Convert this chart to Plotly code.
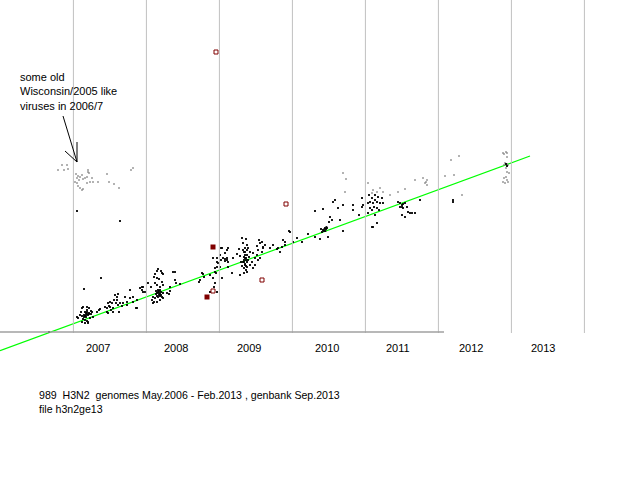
import plotly.graph_objects as go

# time axis: days since 1 Jan 2006 ; value: distance from the May.2006 root
year_labels = ["2007", "2008", "2009", "2010", "2011", "2012", "2013"]
year_label_days = [532, 921, 1286, 1674, 2031, 2394, 2754]
grid_days = [408, 773, 1138, 1503, 1868, 2233, 2598, 2963]

# fitted molecular clock line
fit_days = [41, 2691]
fit_vals = [-18.7, 176]

# black dots = sequenced viruses, per season (day, value)
black_0607 = [(286, 0), (426, 121), (641, 111), (546, 54), (461, 43), (456, 25), (446, 20), (466, 20),
              (476, 20), (486, 19), (496, 21), (501, 20), (526, 20), (536, 22), (541, 23), (426, 15),
              (431, 14), (451, 16), (461, 15), (471, 17), (476, 18), (486, 18), (496, 18), (456, 13),
              (466, 12), (476, 11), (481, 10), (491, 14), (506, 15), (451, 10), (466, 9), (451, 24),
              (471, 19), (476, 22), (481, 17), (441, 17), (476, 25), (486, 24), (481, 9), (461, 17),
              (471, 15), (466, 16)]
black_0708 = [(566, 25), (576, 24), (581, 29), (591, 30), (601, 29), (586, 26), (596, 22), (606, 24),
              (616, 37), (626, 35), (631, 38), (611, 32), (621, 29), (631, 27), (651, 26), (656, 29),
              (676, 30), (691, 34), (706, 35), (726, 24), (576, 20), (581, 19), (606, 20), (636, 20),
              (691, 42), (676, 27), (751, 45), (756, 40), (666, 35), (641, 29), (591, 25), (626, 32),
              (756, 45), (751, 42), (766, 40), (741, 44), (726, 32), (706, 30), (721, 24)]
black_0809 = [(831, 63), (826, 61), (846, 61), (851, 59), (856, 58), (816, 58), (811, 55), (826, 54),
              (836, 53), (851, 50), (856, 47), (816, 49), (826, 47), (841, 45), (831, 42), (846, 40),
              (826, 39), (836, 37), (851, 35), (806, 35), (816, 34), (801, 32), (811, 30), (826, 30),
              (841, 32), (856, 39), (856, 34), (806, 29), (796, 45), (781, 49), (916, 60), (921, 49),
              (941, 48), (886, 38), (891, 41), (1041, 52), (821, 41), (831, 40), (836, 39), (841, 38),
              (846, 37), (826, 36), (831, 35), (841, 36), (821, 38), (836, 41), (841, 42), (891, 45),
              (876, 39), (916, 52), (906, 60)]
black_0910 = [(1106, 74), (1126, 74), (1131, 69), (1116, 64), (1141, 65), (1166, 79), (1176, 72),
              (1181, 65), (1121, 59), (1106, 54), (1116, 49), (1111, 45), (1091, 40), (1036, 50),
              (1051, 59), (1146, 72), (1166, 71), (1151, 54), (1201, 59), (1151, 84), (1141, 77),
              (1156, 74), (1176, 82), (1056, 58), (1091, 57), (1116, 60), (1126, 70), (1126, 65),
              (1061, 55), (1126, 40), (1146, 84), (1181, 84), (1166, 73), (1176, 74), (1181, 70),
              (1206, 74), (1226, 78), (1236, 83), (1251, 94), (1271, 93), (1256, 89), (1276, 87),
              (1256, 82), (1266, 80), (1276, 77), (1261, 75), (1271, 74), (1256, 70), (1266, 67),
              (1261, 64), (1276, 60), (1261, 59), (1281, 84), (1291, 80), (1286, 75), (1281, 72),
              (1291, 67), (1301, 70), (1306, 79), (1316, 74), (1326, 86), (1336, 92), (1351, 90),
              (1341, 89), (1356, 85), (1331, 82), (1351, 80), (1356, 84), (1366, 87), (1326, 77),
              (1331, 72), (1341, 74), (1316, 67), (1306, 64), (1251, 66), (1246, 70), (1241, 76),
              (1276, 65), (1241, 57), (1266, 77), (1271, 72), (1261, 70), (1266, 68), (1271, 66),
              (1276, 82), (1261, 80), (1271, 62), (1266, 84), (1276, 70), (1266, 74), (1261, 72)]
black_1011 = [(1391, 84), (1426, 83), (1441, 80), (1451, 85), (1466, 87), (1456, 92), (1486, 101),
              (1506, 90), (1406, 87), (1466, 90), (1431, 84), (1491, 100), (1526, 94), (1551, 90),
              (1581, 98), (1616, 95), (1641, 93), (1651, 100), (1656, 102), (1666, 104), (1671, 103),
              (1661, 101), (1676, 104), (1646, 103), (1681, 95), (1691, 115), (1701, 112), (1686, 110),
              (1706, 130), (1716, 132), (1741, 112), (1756, 127), (1756, 101), (1731, 124), (1616, 121),
              (1656, 123), (1806, 127), (1806, 122), (1836, 117), (1851, 134), (1851, 125), (1856, 127),
              (1663, 103), (1668, 101), (1673, 105)]
black_1112 = [(1931, 135), (1916, 137), (1886, 137), (1901, 134), (1881, 129), (1891, 130), (1906, 129),
              (1916, 132), (1926, 130), (1941, 129), (1956, 129), (1911, 125), (1901, 122), (1926, 124),
              (1936, 122), (1891, 124), (1951, 134), (1901, 105), (1906, 105), (1926, 109), (1881, 119),
              (1916, 117), (2031, 130), (2041, 129), (2051, 127), (2056, 128), (2066, 129), (2041, 125),
              (2051, 125), (2056, 124), (2076, 125), (2091, 119), (2101, 119), (2081, 120), (2066, 115),
              (2051, 117), (2116, 119), (2141, 132)]
black_1213 = [(2306, 132), (2306, 130), (2571, 168), (2576, 166)]

# grey dots = older Wisconsin/2005-like lineage and outliers
grey_old = [(351, 167), (376, 167), (331, 162), (361, 162), (381, 163), (421, 158), (431, 156),
            (426, 154), (441, 155), (451, 157), (436, 152), (456, 153), (466, 154), (481, 162),
            (486, 159), (476, 155), (491, 150), (476, 149), (426, 149), (431, 146), (441, 144),
            (451, 142), (416, 150), (501, 154), (531, 150), (576, 158), (586, 150), (611, 148),
            (636, 144), (696, 162), (706, 164), (456, 143), (481, 160), (506, 150)]
grey_late = [(1756, 159), (1771, 153), (1766, 140), (1881, 149), (1901, 139), (1906, 142), (1926, 140),
             (1941, 144), (1956, 140), (1991, 137), (2031, 140), (2116, 152), (2156, 154), (2171, 150),
             (2176, 152), (2166, 149), (2176, 147), (2066, 143), (2266, 156), (2296, 172), (2311, 157),
             (2336, 176), (2351, 137), (2556, 179), (2561, 178), (2571, 180), (2576, 179), (2576, 175),
             (2566, 169), (2576, 168), (2581, 167), (2561, 167), (2571, 164), (2576, 160), (2586, 159),
             (2561, 154), (2576, 152), (2581, 150), (2566, 149), (2556, 150), (2571, 155)]

# red boxes = special cases
red_fill_days = [1106, 1076]
red_fill_vals = [85, 35]
red_open_days = [1121, 1471, 1351, 1106]
red_open_vals = [280, 128, 52, 41]

black = black_0607 + black_0708 + black_0809 + black_0910 + black_1011 + black_1112 + black_1213
grey = grey_old + grey_late

fig = go.Figure()

# year boundaries
for d in grid_days:
    fig.add_shape(type="line", x0=d, x1=d, y0=-1, y1=332, line=dict(color="#c0c0c0", width=1))
fig.add_shape(type="line", x0=41, x1=2261, y0=0, y1=0, line=dict(color="#a0a0a0", width=1.5))

fig.add_trace(go.Scatter(x=fit_days, y=fit_vals, mode="lines", line=dict(color="#00ff00", width=1.2)))
fig.add_trace(go.Scatter(x=[p[0] for p in grey], y=[p[1] for p in grey], mode="markers",
                         marker=dict(symbol="square", size=1.6, color="#808080", line=dict(width=0))))
fig.add_trace(go.Scatter(x=[p[0] for p in black], y=[p[1] for p in black], mode="markers",
                         marker=dict(symbol="square", size=1.8, color="black", line=dict(width=0))))
fig.add_trace(go.Scatter(x=red_fill_days, y=red_fill_vals, mode="markers",
                         marker=dict(symbol="square", size=5, color="#800000", line=dict(width=0))))
fig.add_trace(go.Scatter(x=red_open_days, y=red_open_vals, mode="markers",
                         marker=dict(symbol="square-open", size=4, color="#800000", line=dict(width=1))))

for lab, d in zip(year_labels, year_label_days):
    fig.add_annotation(x=d, y=-16, text=lab, showarrow=False, xanchor="center", yanchor="middle",
                       font=dict(size=11, color="black"))

# note + arrow
fig.add_annotation(x=131, y=241, text="some old<br>Wisconsin/2005 like<br>viruses in 2006/7",
                   showarrow=False, xanchor="left", yanchor="middle", align="left",
                   font=dict(size=11, color="black"))
fig.add_shape(type="line", x0=356, y0=216, x1=426, y1=170, line=dict(color="black", width=1))
fig.add_shape(type="line", x0=426, y0=190, x1=426, y1=170, line=dict(color="black", width=1))
fig.add_shape(type="line", x0=366, y0=181, x1=426, y1=170, line=dict(color="black", width=1))

fig.add_annotation(x=226, y=-70, text="989  H3N2  genomes May.2006 - Feb.2013 , genbank Sep.2013<br>file h3n2ge13",
                   showarrow=False, xanchor="left", yanchor="middle", align="left",
                   font=dict(size=10.6, color="black"))

fig.update_layout(
    width=640, height=480,
    margin=dict(l=0, r=0, t=0, b=0),
    paper_bgcolor="white", plot_bgcolor="white",
    showlegend=False,
    font=dict(family="Liberation Sans, Arial, sans-serif"),
    xaxis=dict(range=[41, 3241], visible=False, fixedrange=True),
    yaxis=dict(range=[-148, 332], visible=False, fixedrange=True),
)

fig.write_html("out.html", config={"displayModeBar": False},
               post_script="document.body.style.margin='0';")
